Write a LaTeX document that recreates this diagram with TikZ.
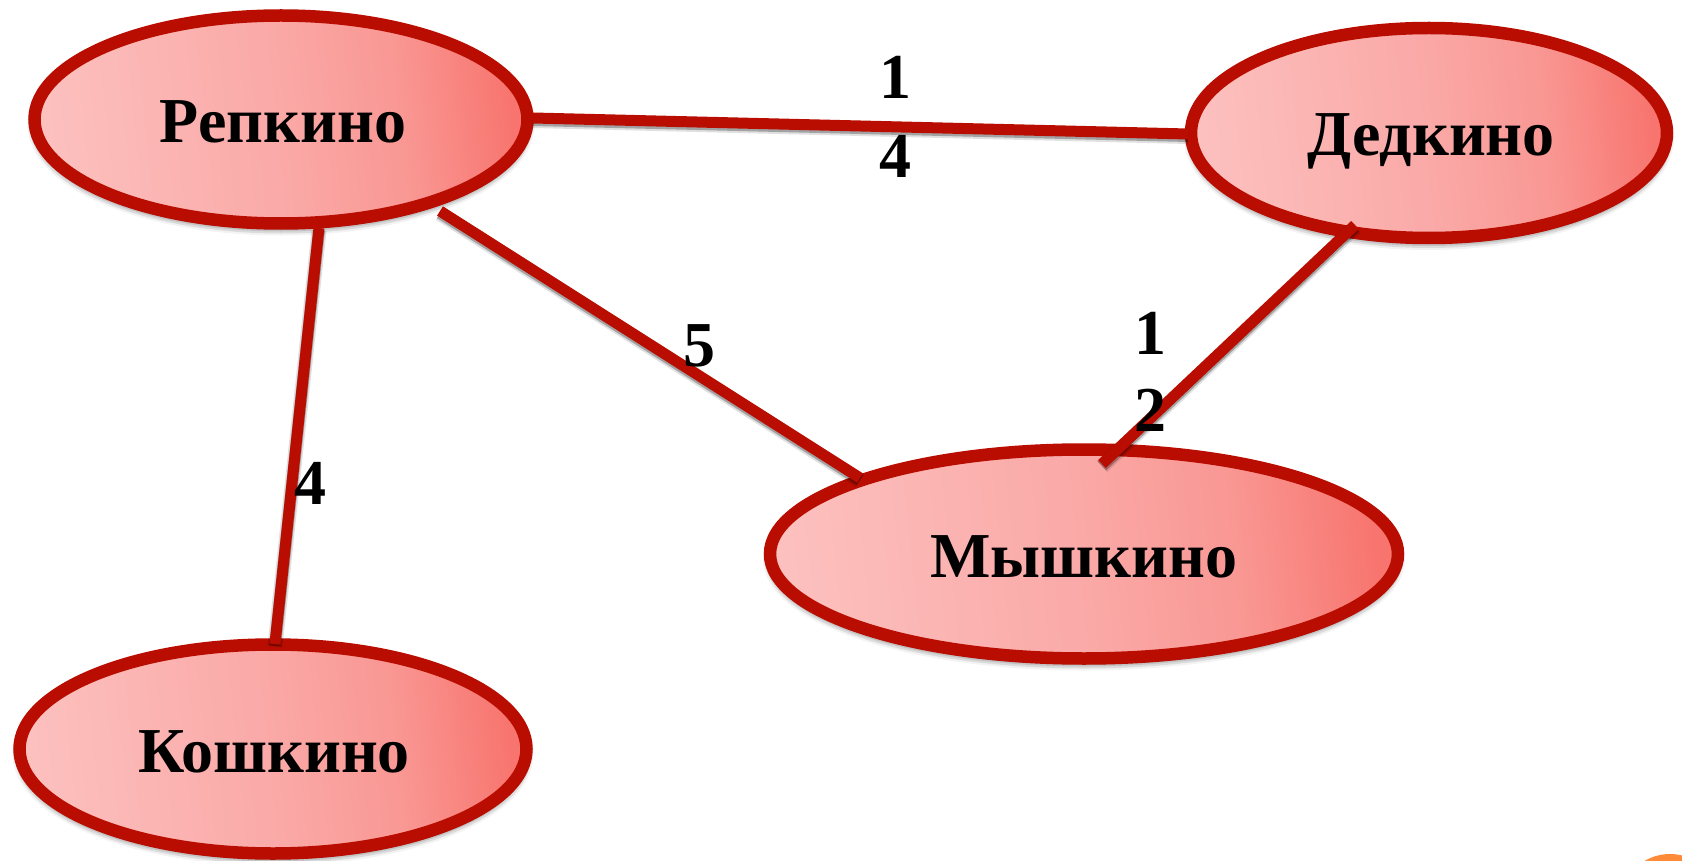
\documentclass[tikz,border=0pt]{standalone}
\usepackage{fontspec}
\setmainfont{Liberation Serif}
\usetikzlibrary{shapes.geometric,shadows.blur}
\definecolor{edgered}{HTML}{B80D00}
\definecolor{fillA}{HTML}{FCC0BE}
\definecolor{fillB}{HTML}{FAA9A7}
\definecolor{fillD}{HTML}{F99793}
\definecolor{fillC}{HTML}{F8746E}
\definecolor{dotorange}{HTML}{FF8A38}
\pgfdeclarehorizontalshading{towngrad}{100bp}{color(0bp)=(fillA);color(25bp)=(fillA);color(50bp)=(fillB);color(63bp)=(fillD);color(75bp)=(fillC);color(100bp)=(fillC)}
\tikzset{
  town/.style={ellipse,draw=edgered,line width=12.5pt,inner sep=0pt,
    shading=towngrad,shading angle=6,
    blur shadow={shadow xshift=0pt,shadow yshift=-5pt,shadow blur radius=7pt,shadow opacity=75},
    minimum width=#1},
  townlabel/.style={font=\fontsize{64}{64}\selectfont\bfseries,text=black,inner sep=0pt},
  weight/.style={font=\fontsize{64}{64}\selectfont\bfseries,text=black,inner sep=0pt,align=center},
  road/.style={draw=edgered,line width=11pt,
    preaction={draw=black,draw opacity=0.12,line width=15pt,transform canvas={yshift=-2.5pt}},
    preaction={draw=black,draw opacity=0.28,line width=12pt,transform canvas={yshift=-2pt}}}
}
\begin{document}
\begin{tikzpicture}[x=1pt,y=-1pt]
\useasboundingbox (0,0) rectangle (1682,861);
\begin{scope}
\clip (0,0) rectangle (1682,861);
\node[circle,fill=dotorange,minimum size=100pt,inner sep=0pt] (dot) at (1670,904) {};
\end{scope}
\node[town=493pt,minimum height=208pt] (rep) at (281,119.5) {};
\node[town=476pt,minimum height=210pt] (ded) at (1429,133) {};
\node[town=628pt,minimum height=209pt] (mys) at (1084,554) {};
\node[town=507pt,minimum height=209pt] (kos) at (273,749) {};
\coordinate (repE) at (533,118);
\coordinate (dedW) at (1188,134);
\coordinate (repS) at (319,228);
\coordinate (kosN) at (275,644);
\coordinate (repSE) at (440,211);
\coordinate (mysNW) at (860,478);
\coordinate (dedS) at (1355,225);
\coordinate (mysN) at (1102,464);
\draw[road] (repE) -- (dedW);
\draw[road] (repS) -- (kosN);
\draw[road] (repSE) -- (mysNW);
\draw[road] (dedS) -- (mysN);
\node[townlabel] (t1) at (283,122) {Репкино};
\node[townlabel] (t2) at (1431,141) {Дедкино};
\node[townlabel] (t3) at (1084,557) {Мышкино};
\node[townlabel] (t4) at (274,752) {Кошкино};
\node[weight] (w1) at (895,77) {1};
\node[weight] (w2) at (895,156) {4};
\node[weight] (w3) at (1150,333) {1};
\node[weight] (w4) at (1150,410) {2};
\node[weight] (w5) at (699,346) {5};
\node[weight] (w6) at (310,483) {4};
\end{tikzpicture}
\end{document}
